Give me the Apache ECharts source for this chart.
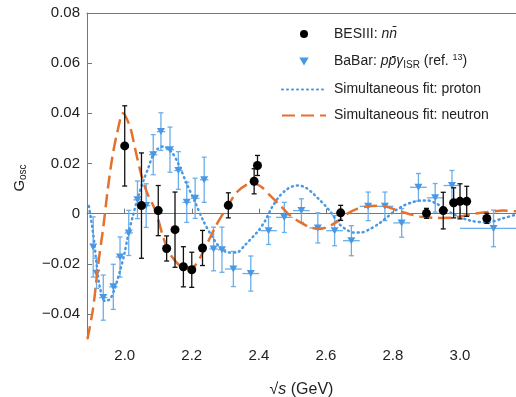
<!DOCTYPE html>
<html>
<head>
<meta charset="utf-8">
<script src="https://cdn.jsdelivr.net/npm/echarts@6/dist/echarts.min.js"></script>
<style>
html, body { margin: 0; padding: 0; background: #fff; }
#main { width: 516px; height: 397px; }
</style>
</head>
<body>
<div id="main"></div>
<script>
// BESIII n nbar points (sqrt(s), G_osc, error)
var besX = [2.0, 2.05, 2.1, 2.125, 2.15, 2.175, 2.2, 2.232, 2.309, 2.386, 2.396, 2.644, 2.9, 2.95, 2.981, 3.0, 3.02, 3.08];
var besY = [0.027, 0.0032, 0.0012, -0.0139, -0.0064, -0.0212, -0.0224, -0.0137, 0.0033, 0.0129, 0.0192, 0.0003, 0.0001, 0.0012, 0.0043, 0.0049, 0.0049, -0.0019];
var besErr = [0.016, 0.021, 0.01, 0.005, 0.015, 0.008, 0.007, 0.007, 0.005, 0.005, 0.004, 0.003, 0.002, 0.0073, 0.006, 0.007, 0.006, 0.002];

// BaBar p pbar gamma_ISR points
var babarX = [1.906, 1.916, 1.936, 1.966, 1.986, 2.012, 2.038, 2.064, 2.085, 2.108, 2.135, 2.16, 2.185, 2.21, 2.237, 2.265, 2.29, 2.324, 2.376, 2.429, 2.476, 2.527, 2.576, 2.626, 2.676, 2.726, 2.776, 2.826, 2.876, 2.926, 2.976, 3.1];
var babarY = [-0.0133, -0.0238, -0.0335, -0.0292, -0.0173, -0.0077, 0.0055, 0.0032, 0.0235, 0.0327, 0.0255, 0.0172, 0.0045, 0.0061, 0.0135, -0.0141, -0.0144, -0.0221, -0.0239, -0.0068, -0.0015, 0.0012, -0.0057, -0.0068, -0.0108, 0.0029, 0.0029, -0.0037, 0.0105, 0.0063, 0.0112, -0.0059];
var babarYErr = [0.012, 0.006, 0.009, 0.009, 0.008, 0.009, 0.0075, 0.0087, 0.008, 0.0075, 0.009, 0.0075, 0.008, 0.008, 0.009, 0.0087, 0.009, 0.007, 0.007, 0.0055, 0.006, 0.0047, 0.006, 0.006, 0.006, 0.0057, 0.0057, 0.0057, 0.0055, 0.0057, 0.006, 0.0073];
var babarXErr = [0.005, 0.005, 0.0125, 0.0125, 0.0125, 0.0125, 0.0125, 0.0125, 0.0125, 0.0125, 0.0125, 0.0125, 0.0125, 0.0125, 0.0125, 0.0125, 0.0125, 0.025, 0.025, 0.025, 0.025, 0.025, 0.025, 0.025, 0.025, 0.025, 0.025, 0.025, 0.025, 0.025, 0.025, 0.1];

// simultaneous fit curves
var protonX = [1.893, 1.906, 1.916, 1.926, 1.941, 1.956, 1.971, 1.986, 1.999, 2.011, 2.026, 2.041, 2.056, 2.071, 2.085, 2.1, 2.115, 2.14, 2.16, 2.185, 2.21, 2.234, 2.259, 2.284, 2.309, 2.334, 2.359, 2.384, 2.399, 2.419, 2.439, 2.459, 2.479, 2.499, 2.518, 2.538, 2.558, 2.578, 2.598, 2.618, 2.635, 2.658, 2.682, 2.707, 2.732, 2.757, 2.782, 2.807, 2.832, 2.857, 2.881, 2.906, 2.931, 2.956, 2.981, 3.031, 3.081, 3.13, 3.167];
var protonY = [0.003, -0.0081, -0.02, -0.0295, -0.0348, -0.0341, -0.0295, -0.0228, -0.016, -0.0081, -0.0001, 0.0072, 0.0132, 0.0185, 0.0235, 0.026, 0.0268, 0.0245, 0.0199, 0.0119, 0.0045, -0.0028, -0.0088, -0.0135, -0.0155, -0.0155, -0.0125, -0.009, -0.0068, -0.0028, 0.0025, 0.0065, 0.0092, 0.0108, 0.0112, 0.0105, 0.0085, 0.0059, 0.0032, 0.0, -0.0035, -0.0061, -0.0075, -0.0075, -0.0061, -0.0041, -0.0015, 0.0012, 0.0032, 0.0045, 0.0052, 0.0052, 0.0039, 0.0018, -0.0003, -0.0028, -0.0035, -0.0018, -0.0004];
var neutronX = [1.889, 1.906, 1.921, 1.936, 1.949, 1.963, 1.978, 1.995, 2.016, 2.031, 2.046, 2.066, 2.085, 2.095, 2.115, 2.135, 2.155, 2.175, 2.2, 2.225, 2.25, 2.275, 2.305, 2.334, 2.364, 2.384, 2.409, 2.434, 2.464, 2.494, 2.524, 2.554, 2.583, 2.613, 2.638, 2.663, 2.693, 2.722, 2.762, 2.792, 2.832, 2.881, 2.931, 2.981, 3.031, 3.081, 3.13, 3.167];
var neutronY = [-0.05, -0.0375, -0.02, -0.0055, 0.0092, 0.0225, 0.0325, 0.04, 0.0345, 0.0259, 0.0172, 0.0085, 0.0032, 0.0, -0.0095, -0.016, -0.0195, -0.0215, -0.0215, -0.0175, -0.0108, -0.0041, 0.0025, 0.0085, 0.0116, 0.0121, 0.0105, 0.0072, 0.0032, -0.0008, -0.0035, -0.0055, -0.0061, -0.0048, -0.0028, -0.0001, 0.0019, 0.0028, 0.0032, 0.0023, 0.0005, -0.0012, -0.0017, -0.0016, -0.0003, 0.0006, 0.0012, 0.0009];

var xTicks = [2.0, 2.2, 2.4, 2.6, 2.8, 3.0];
var yTicks = [-0.04, -0.02, 0, 0.02, 0.04, 0.06, 0.08];

var blue = '#4a98e4';
var orange = '#e4712d';
var font = "'Liberation Sans', Arial, sans-serif";

function zip (a, b) {
  var out = [];
  for (var i = 0; i < a.length; i++) out.push([a[i], b[i]]);
  return out;
}

// error bars drawn through the axis scales
function errBars (color, cap) {
  return function (params, api) {
    var x = api.value(0), y = api.value(1), ey = api.value(2), ex = api.value(3);
    var lo = api.coord([x, y - ey]);
    var hi = api.coord([x, y + ey]);
    var st = { stroke: color, lineWidth: 1.3 };
    var kids = [
      { type: 'line', shape: { x1: lo[0], y1: lo[1], x2: hi[0], y2: hi[1] }, style: st },
      { type: 'line', shape: { x1: lo[0] - cap, y1: lo[1], x2: lo[0] + cap, y2: lo[1] }, style: st },
      { type: 'line', shape: { x1: hi[0] - cap, y1: hi[1], x2: hi[0] + cap, y2: hi[1] }, style: st }
    ];
    if (ex) {
      var l = api.coord([x - ex, y]);
      var r = api.coord([x + ex, y]);
      kids.push({ type: 'line', shape: { x1: l[0], y1: l[1], x2: r[0], y2: r[1] }, style: st });
    }
    return { type: 'group', children: kids };
  };
}

var legendText = {
  'BESIII': '{t|BESIII: }{i|nn\u0304}',
  'BaBar': '{t|BaBar: }{i|pp\u0304\u03b3}{sub|ISR}{t| (ref. }{sup|13}{t|)}',
  'proton': '{t|Simultaneous fit: proton}',
  'neutron': '{t|Simultaneous fit: neutron}'
};

var triDown = 'path://M0,0 L10,0 L5,8.5 Z';
var noDot = { color: 'rgba(0,0,0,0)', borderWidth: 0, opacity: 0 };

var chart = echarts.init(document.getElementById('main'));
chart.setOption({
  animation: false,
  textStyle: { fontFamily: font },
  grid: { left: 87, top: 13, right: 0, bottom: 58, outerBoundsMode: 'none' },
  graphic: [{
    type: 'text',
    x: 20,
    y: 178,
    rotation: Math.PI / 2,
    style: {
      text: '{g|G}{s|osc}',
      align: 'center',
      verticalAlign: 'middle',
      rich: {
        g: { fontSize: 15, fill: '#222', fontFamily: font },
        s: { fontSize: 10, fill: '#222', padding: [7, 0, 0, 0], fontFamily: font }
      }
    }
  }],
  legend: {
    orient: 'vertical',
    left: 281,
    top: 27,
    padding: 0,
    itemWidth: 44,
    itemHeight: 8,
    itemGap: 12,
    data: [
      { name: 'BESIII', icon: 'circle' },
      { name: 'BaBar', icon: triDown },
      { name: 'proton', itemStyle: noDot },
      { name: 'neutron', itemStyle: noDot }
    ],
    formatter: function (name) { return legendText[name]; },
    textStyle: {
      fontFamily: font,
      fontSize: 14,
      color: '#222',
      padding: [0, 0, 0, 3],
      rich: {
        t: { fontSize: 14, color: '#222', fontFamily: font },
        i: { fontSize: 14, color: '#222', fontStyle: 'italic', fontFamily: font },
        sub: { fontSize: 10, color: '#222', padding: [8, 0, 0, 0], fontFamily: font },
        sup: { fontSize: 9, color: '#222', padding: [0, 0, 8, 0], fontFamily: font }
      }
    }
  },
  xAxis: [{
    type: 'value',
    min: 1.8875,
    max: 3.167,
    name: '\u221a{i|s} (GeV)',
    nameLocation: 'middle',
    nameGap: 43,
    nameTextStyle: {
      fontSize: 16, color: '#222', fontFamily: font,
      rich: { i: { fontSize: 16, fontStyle: 'italic', color: '#222', fontFamily: font } }
    },
    axisLine: { lineStyle: { color: '#777', width: 1 } },
    axisTick: { inside: true, length: 5, customValues: xTicks, lineStyle: { color: '#777' } },
    axisLabel: {
      customValues: xTicks,
      margin: 9,
      fontSize: 15,
      color: '#222',
      formatter: function (v) { return v.toFixed(1); }
    },
    splitLine: { show: false }
  }, {
    type: 'value',
    position: 'top',
    min: 1.8875,
    max: 3.167,
    axisLine: { show: true, lineStyle: { color: '#777', width: 1 } },
    axisTick: { show: false },
    axisLabel: { show: false },
    splitLine: { show: false }
  }],
  yAxis: {
    type: 'value',
    min: -0.05,
    max: 0.08,
    axisLine: { show: true, lineStyle: { color: '#777', width: 1 } },
    axisTick: { show: true, inside: true, length: 5, customValues: yTicks, lineStyle: { color: '#777' } },
    axisLabel: {
      customValues: yTicks,
      margin: 7,
      fontSize: 15,
      color: '#222',
      formatter: function (v) {
        if (Math.abs(v) < 1e-9) return '0';
        var s = Math.abs(v).toFixed(2);
        return v < 0 ? '\u2212' + s : s;
      }
    },
    splitLine: { show: false }
  },
  series: [
    {
      type: 'custom',
      name: 'babarErr',
      clip: true,
      renderItem: errBars('#6aaeea', 2.5),
      encode: { x: 0, y: 1 },
      data: babarX.map(function (x, i) { return [x, babarY[i], babarYErr[i], babarXErr[i]]; }),
      z: 2
    },
    {
      type: 'scatter',
      name: 'BaBar',
      symbol: triDown,
      symbolSize: [8, 7],
      itemStyle: { color: blue, opacity: 1 },
      data: zip(babarX, babarY),
      z: 3
    },
    {
      type: 'line',
      name: 'proton',
      showSymbol: false,
      symbol: 'none',
      smooth: 0.3,
      clip: true,
      lineStyle: { color: blue, width: 2.5, type: [1, 4], cap: 'round' },
      itemStyle: { color: blue },
      data: zip(protonX, protonY),
      z: 4
    },
    {
      type: 'line',
      name: 'neutron',
      showSymbol: false,
      symbol: 'none',
      smooth: 0.3,
      clip: true,
      lineStyle: { color: orange, width: 2.5, type: [13, 6] },
      itemStyle: { color: orange },
      data: zip(neutronX, neutronY),
      z: 5
    },
    {
      type: 'custom',
      name: 'besErr',
      clip: true,
      renderItem: errBars('#111', 2.5),
      encode: { x: 0, y: 1 },
      data: besX.map(function (x, i) { return [x, besY[i], besErr[i], 0]; }),
      z: 6
    },
    {
      type: 'scatter',
      name: 'BESIII',
      symbol: 'circle',
      symbolSize: 9,
      itemStyle: { color: '#000', opacity: 1 },
      data: zip(besX, besY),
      z: 7
    }
  ]
});
</script>
</body>
</html>
